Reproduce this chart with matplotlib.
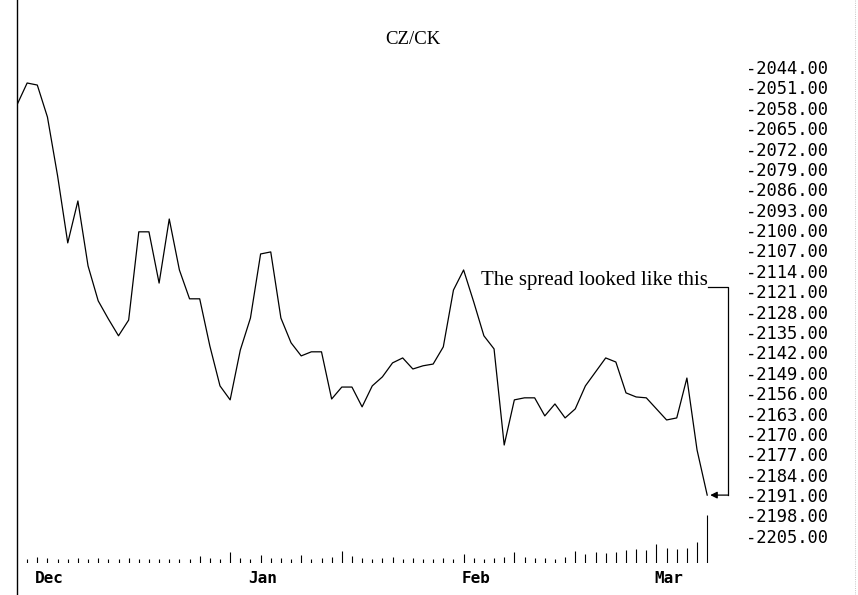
import matplotlib.pyplot as plt
import numpy as np

# CZ/CK spread, daily closes (Dec .. early Mar)
spread = [-2057.0, -2049.5, -2050.2, -2061.2, -2081.4, -2104.4, -2090.0, -2112.3,
          -2124.3, -2130.5, -2136.3, -2130.9, -2100.6, -2100.6, -2118.2, -2096.2,
          -2113.7, -2123.6, -2123.6, -2139.8, -2153.5, -2158.3, -2141.2, -2130.2,
          -2108.2, -2107.5, -2130.2, -2138.7, -2143.2, -2141.8, -2141.8, -2158.0,
          -2153.9, -2153.9, -2160.7, -2153.5, -2150.4, -2145.6, -2143.9, -2147.7,
          -2146.6, -2146.0, -2140.1, -2120.6, -2113.7, -2124.7, -2136.3, -2140.8,
          -2173.8, -2158.3, -2157.6, -2157.6, -2163.8, -2159.7, -2164.5, -2161.4,
          -2153.5, -2148.7, -2143.9, -2145.3, -2155.9, -2157.3, -2157.6, -2161.4,
          -2165.2, -2164.5, -2150.8, -2175.5, -2191.0]

# volume-style bars along the bottom (relative heights)
volume = [0, 4, 6, 5, 4, 4, 5, 4, 5, 4, 4, 5, 4, 4, 4, 4, 4, 4,
          7, 5, 4, 11, 5, 4, 8, 5, 5, 4, 8, 4, 5, 6, 12, 7, 5, 4, 5, 6, 4, 5, 4,
          4, 5, 4, 9, 5, 4, 5, 6, 11, 6, 5, 5, 4, 6, 12, 9, 11, 10, 11, 13, 14, 13,
          19, 15, 14, 15, 21, 48]

months = ['Dec', 'Jan', 'Feb', 'Mar']
month_start = [2, 23, 44, 63]

yticks = np.arange(-2044, -2206, -7)

days = np.arange(len(spread))

fig = plt.figure(figsize=(8.58, 5.95), dpi=100)

# main price axes
ax = fig.add_axes([17 / 858, 0, 718 / 858, 1])
ax.plot(days, spread, color='black', lw=0.9)
ax.set_xlim(0, 718 / 10.15)
ax.set_ylim(-2225.3, -2021.0)

for s in ['top', 'right', 'bottom']:
    ax.spines[s].set_visible(False)
ax.spines['left'].set_linewidth(1.0)
ax.set_xticks([])
ax.yaxis.tick_right()
ax.set_yticks(yticks)
ax.set_yticklabels(['%.2f' % v for v in yticks], family='DejaVu Sans Mono',
                   fontsize=12.3)
ax.tick_params(axis='y', length=0, pad=8)

fig.text(413 / 858, 1 - 40 / 595, 'CZ/CK', family='Liberation Serif',
         fontsize=13.5, ha='center', va='center')

# month labels
for m, d in zip(months, month_start):
    ax.text(d - 0.2, 0.028, m, transform=ax.get_xaxis_transform(),
            family='DejaVu Sans Mono', fontweight='bold', fontsize=11.5,
            ha='left', va='center')

# annotation with bracket pointing at the last close
last = len(spread) - 1
corner_x = last + 2.05
corner_y = -2119.5
ax.text(last + 0.05, corner_y - 1.1, 'The spread looked like this',
        family='Liberation Serif', fontsize=15, ha='right', va='bottom')
ax.plot([last + 0.05, corner_x, corner_x], [corner_y, corner_y, spread[-1]],
        color='black', lw=0.9)
ax.annotate('', xy=(last + 0.3, spread[-1]), xytext=(corner_x, spread[-1]),
            arrowprops=dict(arrowstyle='-|>', color='black', lw=0.9,
                            mutation_scale=10, shrinkA=0, shrinkB=0))

# volume bars
ax2 = fig.add_axes([17 / 858, 32 / 595, 718 / 858, 58 / 595])
ax2.vlines(days, 0, volume, color='black', lw=0.8)
ax2.set_xlim(ax.get_xlim())
ax2.set_ylim(0, 58)
ax2.axis('off')

# faint right border of the scanned page
fig.add_artist(plt.Line2D([855 / 858, 855 / 858], [0, 1], color='0.7',
                          lw=0.6, ls=':'))

fig.savefig('out.png', dpi=100)
